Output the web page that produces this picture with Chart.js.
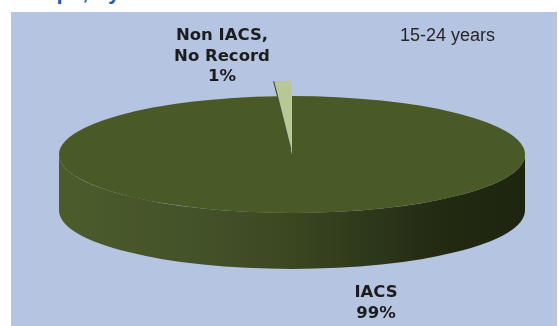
<!DOCTYPE html>
<html>
<head>
<meta charset="utf-8">
<script src="https://cdn.jsdelivr.net/npm/chart.js@4.4.1/dist/chart.umd.min.js"></script>
<style>
  html, body { margin: 0; padding: 0; background: #ffffff; width: 558px; height: 326px; overflow: hidden; }
  #heading {
    position: absolute; left: -237px; top: -20px; width: 400px; text-align: right;
    font: bold 22px "Liberation Sans", Arial, sans-serif; line-height: 24px;
    color: #1f5fae; white-space: nowrap;
  }
  #panel { position: absolute; left: 11px; top: 12px; width: 546px; height: 314px; background: #b5c4e1; }
  #wrap { position: absolute; left: 0; top: 0; width: 558px; height: 326px; }
</style>
</head>
<body>
<div id="heading">Age Groups, by sex</div>
<div id="panel"></div>
<div id="wrap"><canvas id="chart" width="558" height="326"></canvas></div>
<script>
// Enrolment status of the 15-24 age group
const categories = [['IACS'], ['Non IACS,', 'No Record']];
const shares = [99, 1];
const groupLabel = '15-24 years';

// 3D look: vertical squash of the disc and thickness of its rim
const TILT = 0.251;
const DEPTH = 56;

// Geometry of an arc as it appears after the squash around the disc centre
function arcGeom(arc, c0) {
  const p = arc.getProps(['x', 'y', 'startAngle', 'endAngle', 'outerRadius']);
  return {
    cx: p.x,
    cy: c0 + (p.y - c0) * TILT,
    rx: p.outerRadius, ry: p.outerRadius * TILT,
    s: p.startAngle, e: p.endAngle
  };
}

function drawFrontWall(ctx, g, fill) {
  for (let n = -1; n <= 1; n++) {
    const lo = Math.max(g.s, 2 * Math.PI * n);
    const hi = Math.min(g.e, 2 * Math.PI * n + Math.PI);
    if (hi <= lo) continue;
    ctx.beginPath();
    ctx.ellipse(g.cx, g.cy, g.rx, g.ry, 0, lo, hi, false);
    ctx.ellipse(g.cx, g.cy + DEPTH, g.rx, g.ry, 0, hi, lo, true);
    ctx.closePath();
    ctx.fillStyle = fill;
    ctx.fill();
  }
}

const pie3d = {
  id: 'pie3d',
  defaults: { explode: {}, grow: {} },
  // pull exploded slices away from the centre along their mid angle;
  // the pulled slice sits nearer the eye, so it is drawn a little larger
  afterUpdate(chart, args, opts) {
    chart.getDatasetMeta(0).data.forEach((arc, i) => {
      const d = opts.explode[i] || 0;
      if (!d) return;
      const mid = (arc.startAngle + arc.endAngle) / 2;
      arc.x += Math.cos(mid) * d;
      arc.y += Math.sin(mid) * d;
      arc.outerRadius += opts.grow[i] || 0;
    });
  },
  beforeDatasetsDraw(chart) {
    const ctx = chart.ctx;
    const arcs = chart.getDatasetMeta(0).data;
    const c0 = arcs[0].y;

    // front rim, shaded from left to right
    arcs.forEach((arc) => {
      const g = arcGeom(arc, c0);
      const grad = ctx.createLinearGradient(g.cx - g.rx, 0, g.cx + g.rx, 0);
      grad.addColorStop(0, '#4c5c2a');
      grad.addColorStop(0.3, '#44522a');
      grad.addColorStop(0.5, '#3a4721');
      grad.addColorStop(0.7, '#2b3519');
      grad.addColorStop(0.82, '#222a12');
      grad.addColorStop(1, '#1e250f');
      drawFrontWall(ctx, g, grad);
    });

    // top faces: the library's arcs, squashed around the disc centre
    ctx.save();
    ctx.translate(0, c0);
    ctx.scale(1, TILT);
    ctx.translate(0, -c0);
  },
  afterDatasetsDraw(chart) {
    const ctx = chart.ctx;
    ctx.restore();
    // edge-on cut face of the pulled-out slice
    const arcs = chart.getDatasetMeta(0).data;
    const c0 = arcs[0].y;
    arcs.slice(1).forEach((arc) => {
      const g = arcGeom(arc, c0);
      ctx.beginPath();
      ctx.moveTo(g.cx - 0.6, g.cy);
      ctx.lineTo(g.cx + Math.cos(g.s) * g.rx - 0.6, g.cy + Math.sin(g.s) * g.ry);
      ctx.strokeStyle = '#46532a';
      ctx.lineWidth = 1.2;
      ctx.stroke();
    });
  },
  afterDraw(chart) {
    const ctx = chart.ctx;
    const total = shares.reduce((a, b) => a + b, 0);
    const spots = [{ x: 376, y: 297 }, { x: 222, y: 40 }];
    ctx.save();
    ctx.fillStyle = '#1c1c1c';
    ctx.textAlign = 'center';
    ctx.textBaseline = 'alphabetic';
    ctx.font = 'bold 16.5px "DejaVu Sans", Verdana, sans-serif';
    categories.forEach((lines, i) => {
      const pct = Math.round(shares[i] / total * 100) + '%';
      lines.concat([pct]).forEach((t, k) => {
        ctx.fillText(t, spots[i].x, spots[i].y + k * 20.5);
      });
    });
    ctx.font = '18px "Liberation Sans", Arial, sans-serif';
    ctx.fillStyle = '#262626';
    ctx.textAlign = 'left';
    ctx.fillText(groupLabel, 400, 41);
    ctx.restore();
  }
};

new Chart(document.getElementById('chart'), {
  type: 'pie',
  data: {
    labels: categories,
    datasets: [{
      data: shares,
      backgroundColor: ['#4a5a27', '#b7c795'],
      borderWidth: 0,
      radius: 233,
      clip: false
    }]
  },
  options: {
    responsive: false,
    animation: false,
    devicePixelRatio: 1,
    events: [],
    layout: { padding: { left: 26, right: 0, top: 0, bottom: 17 } },
    plugins: {
      legend: { display: false },
      tooltip: { enabled: false },
      pie3d: { explode: { 1: 20 }, grow: { 1: 40 } }
    }
  },
  plugins: [pie3d]
});
</script>
</body>
</html>
